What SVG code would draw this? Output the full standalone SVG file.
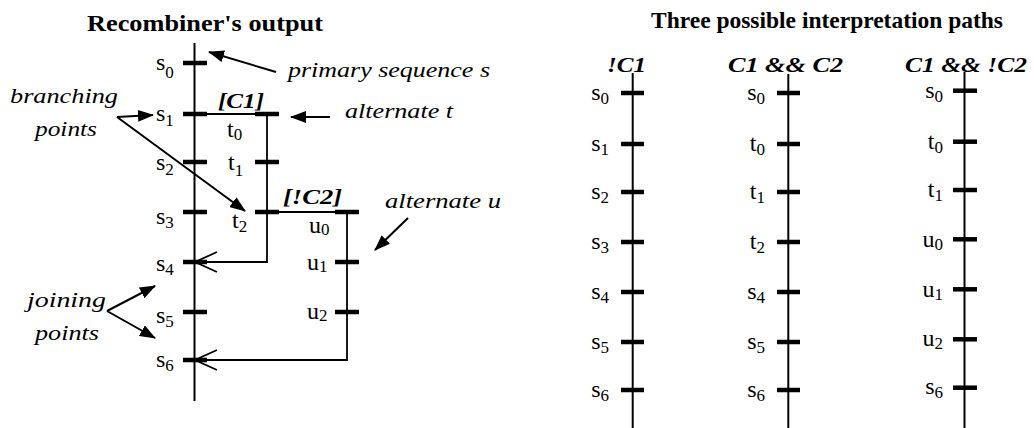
<svg xmlns="http://www.w3.org/2000/svg" width="1034" height="428" viewBox="0 0 1034 428">
<style>
text{font-family:"Liberation Serif","Times New Roman",serif;fill:#000}
.title{font-size:24px;font-weight:bold}
.ann{font-size:22px;font-style:italic}
.cond{font-size:20px;font-style:italic;font-weight:bold}
.lbl{font-size:24px}
.sub{font-size:17px}
.tick{stroke:#000;stroke-width:4.5;fill:none}
.ln{stroke:#000;stroke-width:2;fill:none}
.br{stroke:#000;stroke-width:1.8;fill:none}
.arr{stroke:#000;stroke-width:2;fill:none;marker-end:url(#ah)}
</style>
<defs>
<marker id="ah" viewBox="0 0 16 12" refX="15" refY="6" markerWidth="16" markerHeight="12" markerUnits="userSpaceOnUse" orient="auto">
<path d="M0,0 L16,6 L0,12 Z" fill="#000"/>
</marker>
</defs>
<rect width="1034" height="428" fill="#fff"/>

<text class="title" x="87" y="31" textLength="236" lengthAdjust="spacingAndGlyphs">Recombiner's output</text>
<text class="title" x="651" y="28" textLength="352" lengthAdjust="spacingAndGlyphs">Three possible interpretation paths</text>

<g id="connectors">
<line class="ln" x1="194.5" y1="43" x2="194.5" y2="401"/>
<polyline class="br" points="194.5,114 267,114 267,262 195,262"/>
<polyline class="br" points="217,252 195,262 217,272"/>
<polyline class="br" points="267,212 347,212 347,360 195,360"/>
<polyline class="br" points="217,350 195,360 217,370"/>
<line class="arr" x1="276" y1="72" x2="209" y2="52"/>
<line class="arr" x1="330" y1="117" x2="291" y2="117"/>
<line class="arr" x1="117" y1="117" x2="153" y2="115"/>
<line class="arr" x1="117" y1="117" x2="245" y2="211"/>
<line class="arr" x1="408" y1="218" x2="375" y2="250"/>
<line class="arr" x1="107" y1="311" x2="155" y2="286"/>
<line class="arr" x1="107" y1="311" x2="155" y2="338"/>
<line class="ln" x1="632.7" y1="73" x2="632.7" y2="428"/>
<line class="ln" x1="788.3" y1="74" x2="788.3" y2="428"/>
<line class="ln" x1="964.5" y1="72" x2="964.5" y2="428"/>
</g>

<g id="annotations">
<text class="ann" x="288" y="77" textLength="202" lengthAdjust="spacingAndGlyphs">primary sequence s</text>
<text class="ann" x="345" y="118" textLength="108" lengthAdjust="spacingAndGlyphs">alternate t</text>
<text class="ann" x="385" y="208" textLength="116" lengthAdjust="spacingAndGlyphs">alternate u</text>
<text class="ann" x="10" y="103" textLength="108" lengthAdjust="spacingAndGlyphs">branching</text>
<text class="ann" x="35" y="136" textLength="62" lengthAdjust="spacingAndGlyphs">points</text>
<text class="ann" x="27" y="307" textLength="79" lengthAdjust="spacingAndGlyphs">joining</text>
<text class="ann" x="35" y="340" textLength="64" lengthAdjust="spacingAndGlyphs">points</text>
<text class="cond" x="218" y="108" textLength="46" lengthAdjust="spacingAndGlyphs">[C1]</text>
<text class="cond" x="283" y="204" textLength="59" lengthAdjust="spacingAndGlyphs">[!C2]</text>
<text class="cond" x="607" y="71.5" textLength="39" lengthAdjust="spacingAndGlyphs">!C1</text>
<text class="cond" x="728" y="71.5" textLength="115" lengthAdjust="spacingAndGlyphs">C1 &amp;&amp; C2</text>
<text class="cond" x="905" y="71.5" textLength="122" lengthAdjust="spacingAndGlyphs">C1 &amp;&amp; !C2</text>
</g>

<g id="L-s0"><line class="tick" x1="183" y1="63" x2="207" y2="63"/><text class="lbl" x="156" y="70">s<tspan class="sub" dy="8">0</tspan></text></g>
<g id="L-s1"><line class="tick" x1="183" y1="114" x2="207" y2="114"/><text class="lbl" x="156" y="121">s<tspan class="sub" dy="5">1</tspan></text></g>
<g id="L-s2"><line class="tick" x1="183" y1="162" x2="207" y2="162"/><text class="lbl" x="156" y="170">s<tspan class="sub" dy="5">2</tspan></text></g>
<g id="L-s3"><line class="tick" x1="183" y1="212" x2="207" y2="212"/><text class="lbl" x="156" y="224">s<tspan class="sub" dy="4">3</tspan></text></g>
<g id="L-s4"><line class="tick" x1="183" y1="262" x2="207" y2="262"/><text class="lbl" x="156" y="271">s<tspan class="sub" dy="4">4</tspan></text></g>
<g id="L-s5"><line class="tick" x1="183" y1="312" x2="207" y2="312"/><text class="lbl" x="156" y="323">s<tspan class="sub" dy="4">5</tspan></text></g>
<g id="L-s6"><line class="tick" x1="183" y1="360" x2="207" y2="360"/><text class="lbl" x="156" y="367">s<tspan class="sub" dy="4">6</tspan></text></g>

<g id="L-t0"><line class="tick" x1="255" y1="114" x2="279" y2="114"/><text class="lbl" x="227" y="137">t<tspan class="sub" dy="3">0</tspan></text></g>
<g id="L-t1"><line class="tick" x1="255" y1="162" x2="279" y2="162"/><text class="lbl" x="228" y="170">t<tspan class="sub" dy="6">1</tspan></text></g>
<g id="L-t2"><line class="tick" x1="255" y1="212" x2="279" y2="212"/><text class="lbl" x="232" y="228">t<tspan class="sub" dy="4">2</tspan></text></g>

<g id="L-u0"><line class="tick" x1="335" y1="212" x2="359" y2="212"/><text class="lbl" x="309" y="233">u<tspan class="sub" dy="2">0</tspan></text></g>
<g id="L-u1"><line class="tick" x1="335" y1="262" x2="359" y2="262"/><text class="lbl" x="307" y="270">u<tspan class="sub" dy="2">1</tspan></text></g>
<g id="L-u2"><line class="tick" x1="335" y1="312" x2="359" y2="312"/><text class="lbl" x="307" y="319">u<tspan class="sub" dy="2">2</tspan></text></g>

<g id="P1-s0"><line class="tick" x1="621" y1="93" x2="644" y2="93"/><text class="lbl" x="609" y="100" text-anchor="end">s<tspan class="sub" dy="4">0</tspan></text></g>
<g id="P1-s1"><line class="tick" x1="621" y1="144" x2="644" y2="144"/><text class="lbl" x="609" y="151" text-anchor="end">s<tspan class="sub" dy="4">1</tspan></text></g>
<g id="P1-s2"><line class="tick" x1="621" y1="192" x2="644" y2="192"/><text class="lbl" x="609" y="199" text-anchor="end">s<tspan class="sub" dy="4">2</tspan></text></g>
<g id="P1-s3"><line class="tick" x1="621" y1="242" x2="644" y2="242"/><text class="lbl" x="609" y="249" text-anchor="end">s<tspan class="sub" dy="4">3</tspan></text></g>
<g id="P1-s4"><line class="tick" x1="621" y1="292" x2="644" y2="292"/><text class="lbl" x="609" y="299" text-anchor="end">s<tspan class="sub" dy="4">4</tspan></text></g>
<g id="P1-s5"><line class="tick" x1="621" y1="342" x2="644" y2="342"/><text class="lbl" x="609" y="349" text-anchor="end">s<tspan class="sub" dy="4">5</tspan></text></g>
<g id="P1-s6"><line class="tick" x1="621" y1="390" x2="644" y2="390"/><text class="lbl" x="609" y="397" text-anchor="end">s<tspan class="sub" dy="4">6</tspan></text></g>

<g id="P2-s0"><line class="tick" x1="777" y1="93" x2="800" y2="93"/><text class="lbl" x="765" y="100" text-anchor="end">s<tspan class="sub" dy="4">0</tspan></text></g>
<g id="P2-t0"><line class="tick" x1="777" y1="144" x2="800" y2="144"/><text class="lbl" x="765" y="151" text-anchor="end">t<tspan class="sub" dy="4">0</tspan></text></g>
<g id="P2-t1"><line class="tick" x1="777" y1="192" x2="800" y2="192"/><text class="lbl" x="765" y="199" text-anchor="end">t<tspan class="sub" dy="4">1</tspan></text></g>
<g id="P2-t2"><line class="tick" x1="777" y1="242" x2="800" y2="242"/><text class="lbl" x="765" y="249" text-anchor="end">t<tspan class="sub" dy="4">2</tspan></text></g>
<g id="P2-s4"><line class="tick" x1="777" y1="292" x2="800" y2="292"/><text class="lbl" x="765" y="299" text-anchor="end">s<tspan class="sub" dy="4">4</tspan></text></g>
<g id="P2-s5"><line class="tick" x1="777" y1="342" x2="800" y2="342"/><text class="lbl" x="765" y="349" text-anchor="end">s<tspan class="sub" dy="4">5</tspan></text></g>
<g id="P2-s6"><line class="tick" x1="777" y1="390" x2="800" y2="390"/><text class="lbl" x="765" y="397" text-anchor="end">s<tspan class="sub" dy="4">6</tspan></text></g>

<g id="P3-s0"><line class="tick" x1="953" y1="90.7" x2="977" y2="90.7"/><text class="lbl" x="943" y="98" text-anchor="end">s<tspan class="sub" dy="4">0</tspan></text></g>
<g id="P3-t0"><line class="tick" x1="953" y1="141.7" x2="977" y2="141.7"/><text class="lbl" x="943" y="149" text-anchor="end">t<tspan class="sub" dy="4">0</tspan></text></g>
<g id="P3-t1"><line class="tick" x1="953" y1="190" x2="977" y2="190"/><text class="lbl" x="943" y="197" text-anchor="end">t<tspan class="sub" dy="4">1</tspan></text></g>
<g id="P3-u0"><line class="tick" x1="953" y1="239.3" x2="977" y2="239.3"/><text class="lbl" x="943" y="247" text-anchor="end">u<tspan class="sub" dy="3">0</tspan></text></g>
<g id="P3-u1"><line class="tick" x1="953" y1="289.3" x2="977" y2="289.3"/><text class="lbl" x="943" y="297" text-anchor="end">u<tspan class="sub" dy="3">1</tspan></text></g>
<g id="P3-u2"><line class="tick" x1="953" y1="339.3" x2="977" y2="339.3"/><text class="lbl" x="943" y="346" text-anchor="end">u<tspan class="sub" dy="3">2</tspan></text></g>
<g id="P3-s6"><line class="tick" x1="953" y1="387.7" x2="977" y2="387.7"/><text class="lbl" x="943" y="394" text-anchor="end">s<tspan class="sub" dy="4">6</tspan></text></g>
</svg>
